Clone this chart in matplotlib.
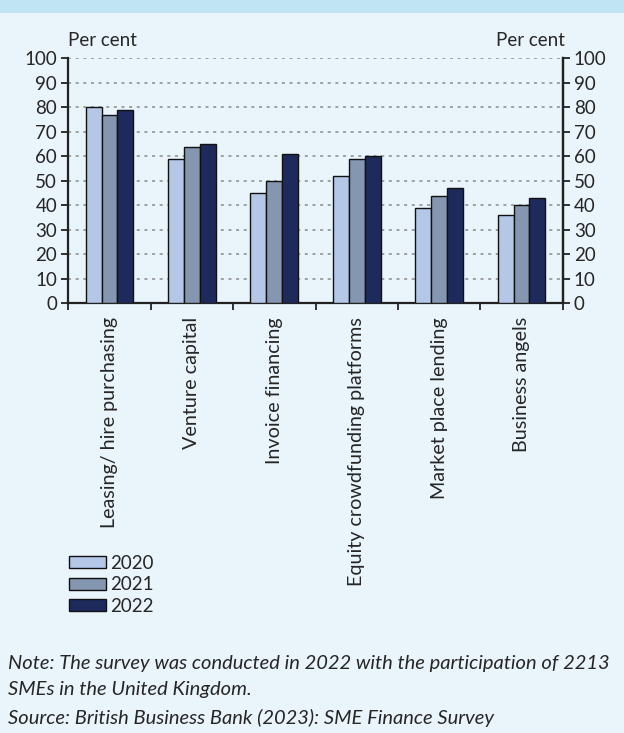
import matplotlib

matplotlib.use("Agg")

import matplotlib.pyplot as plt  # noqa: E402
import numpy as np  # noqa: E402

# ---------------------------------------------------------------------------
# Data
# ---------------------------------------------------------------------------

categories = [
    "Leasing/ hire purchasing",
    "Venture capital",
    "Invoice financing",
    "Equity crowdfunding platforms",
    "Market place lending",
    "Business angels",
]
years = ["2020", "2021", "2022"]
values_2020 = [80, 59, 45, 52, 39, 36]
values_2021 = [77, 64, 50, 59, 44, 40]
values_2022 = [79, 65, 61, 60, 47, 43]

y_ticks = list(range(0, 101, 10))

footer_lines = [
    "Note: The survey was conducted in 2022 with the participation of 2213",
    "SMEs in the United Kingdom.",
    "Source: British Business Bank (2023): SME Finance Survey",
]

# ---------------------------------------------------------------------------
# Style
# ---------------------------------------------------------------------------

_BG = "#e9f4fb"
_BAND = "#c1e4f4"
_COLORS = ["#b4c7e7", "#8496b0", "#1f2a5c"]
_TEXT = "#262626"
_AXIS = "#222222"

plt.rcParams["font.family"] = ["Lato", "DejaVu Sans"]

W, H = 624, 733
fig = plt.figure(figsize=(W / 100, H / 100), dpi=100, facecolor=_BG)

# top band
fig.patches.append(plt.Rectangle((0, 1 - 13 / H), 1, 13 / H, transform=fig.transFigure,
                                 facecolor=_BAND, edgecolor="none", zorder=0))

ax_left, ax_right_px, ax_top, ax_bottom = 68.3, 562.7, 58.3, 303.3
ax = fig.add_axes([ax_left / W, 1 - ax_bottom / H,
                   (ax_right_px - ax_left) / W, (ax_bottom - ax_top) / H])
ax.set_facecolor(_BG)

x = np.arange(len(categories))
width = 0.194
series = [values_2020, values_2021, values_2022]
for i, (vals, label) in enumerate(zip(series, years)):
    ax.bar(x + (i - 1) * width, vals, width, color=_COLORS[i], edgecolor="#111111",
           linewidth=1.0, label=label, zorder=3)

ax.set_xlim(-0.5, len(categories) - 0.5)
ax.set_ylim(0, 100)
ax.set_yticks(y_ticks)
ax.yaxis.grid(True, linestyle=(0, (2, 3)), color="#8c8c8c", linewidth=1.1, zorder=0)
ax.set_axisbelow(True)

# category boundary ticks
ax.set_xticks(np.arange(len(categories) + 1) - 0.5)
ax.set_xticklabels([])
ax.tick_params(axis="x", direction="out", length=5, width=1.3, color=_AXIS)
ax.tick_params(axis="y", direction="out", length=5, width=1.3, color=_AXIS,
               labelsize=13.5, labelcolor=_TEXT, pad=3)
ax.spines["top"].set_visible(False)
for side in ["left", "right", "bottom"]:
    ax.spines[side].set_linewidth(1.6)
    ax.spines[side].set_color(_AXIS)

for xi, cat in zip(x, categories):
    ax.text(xi, -5.6, cat, rotation=90, ha="center", va="top", fontsize=14.2,
            color=_TEXT)

ax2 = ax.twinx()
ax2.set_ylim(0, 100)
ax2.set_yticks(y_ticks)
ax2.tick_params(axis="y", direction="out", length=5, width=1.3, color=_AXIS,
                labelsize=13.5, labelcolor=_TEXT, pad=3)
for side in ["top", "left", "bottom"]:
    ax2.spines[side].set_visible(False)
ax2.spines["right"].set_linewidth(1.6)
ax2.spines["right"].set_color(_AXIS)

fig.text(68 / W, 1 - 40 / H, "Per cent", ha="left", va="center", fontsize=13.5, color=_TEXT)
fig.text(565 / W, 1 - 40 / H, "Per cent", ha="right", va="center", fontsize=13.5, color=_TEXT)

handles, labels = ax.get_legend_handles_labels()
fig.legend(handles, labels, loc="upper left", bbox_to_anchor=(69 / W, 1 - 555 / H),
           frameon=False, fontsize=13.5, handlelength=1.97, handleheight=0.62,
           handletextpad=0.22, labelspacing=0.24, borderpad=0, borderaxespad=0,
           labelcolor=_TEXT)

for y_px, line in zip([664, 689, 718], footer_lines):
    fig.text(8 / W, 1 - y_px / H, line, ha="left", va="center", fontsize=14.5,
             style="italic", color=_TEXT)

fig.savefig("out.png", dpi=100, facecolor=_BG)
